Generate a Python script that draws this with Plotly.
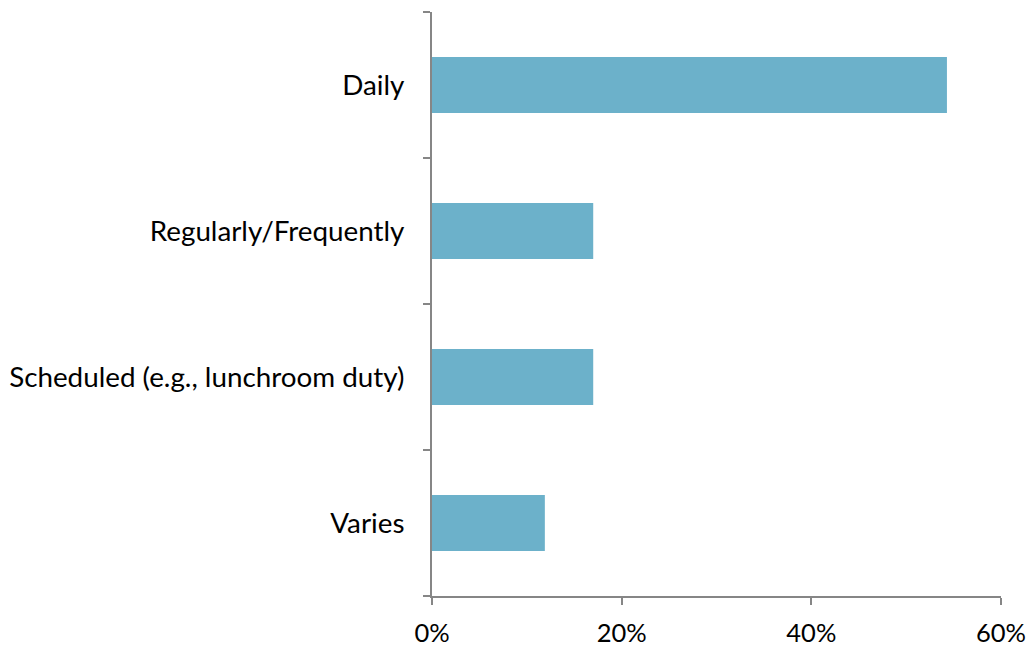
import plotly.graph_objects as go

categories = ["Daily", "Regularly/Frequently", "Scheduled (e.g., lunchroom duty)", "Varies"]
values = [54.3, 17.0, 17.0, 11.9]
x_ticks = [0, 20, 40, 60]
x_tick_labels = ["0%", "20%", "40%", "60%"]

fig = go.Figure(go.Bar(
    x=values, y=categories, orientation="h",
    marker=dict(color="#6CB1CA", line=dict(width=0)),
    width=0.385,
))

axis_color = "#868686"
fig.update_layout(
    width=1026, height=640,
    margin=dict(l=424, r=33, t=4, b=52),
    paper_bgcolor="white", plot_bgcolor="white",
    font=dict(family="Lato, Open Sans, sans-serif", size=27.8, color="black"),
    showlegend=False,
    xaxis=dict(
        range=[0, 60], tickvals=x_ticks, ticktext=x_tick_labels,
        showgrid=False, zeroline=False, automargin=False,
        showline=True, linecolor=axis_color, linewidth=2,
        ticks="outside", ticklen=7, tickcolor=axis_color, tickwidth=2,
        ticklabelstandoff=6, tickfont=dict(size=25.5),
    ),
    yaxis=dict(
        categoryorder="array", categoryarray=categories[::-1],
        showgrid=False, zeroline=False, automargin=False,
        showline=True, linecolor=axis_color, linewidth=2,
        ticks="outside", ticklen=7, tickcolor=axis_color, tickwidth=2,
        tickson="boundaries", ticklabelstandoff=20,
    ),
)

fig.write_html("out.html")
